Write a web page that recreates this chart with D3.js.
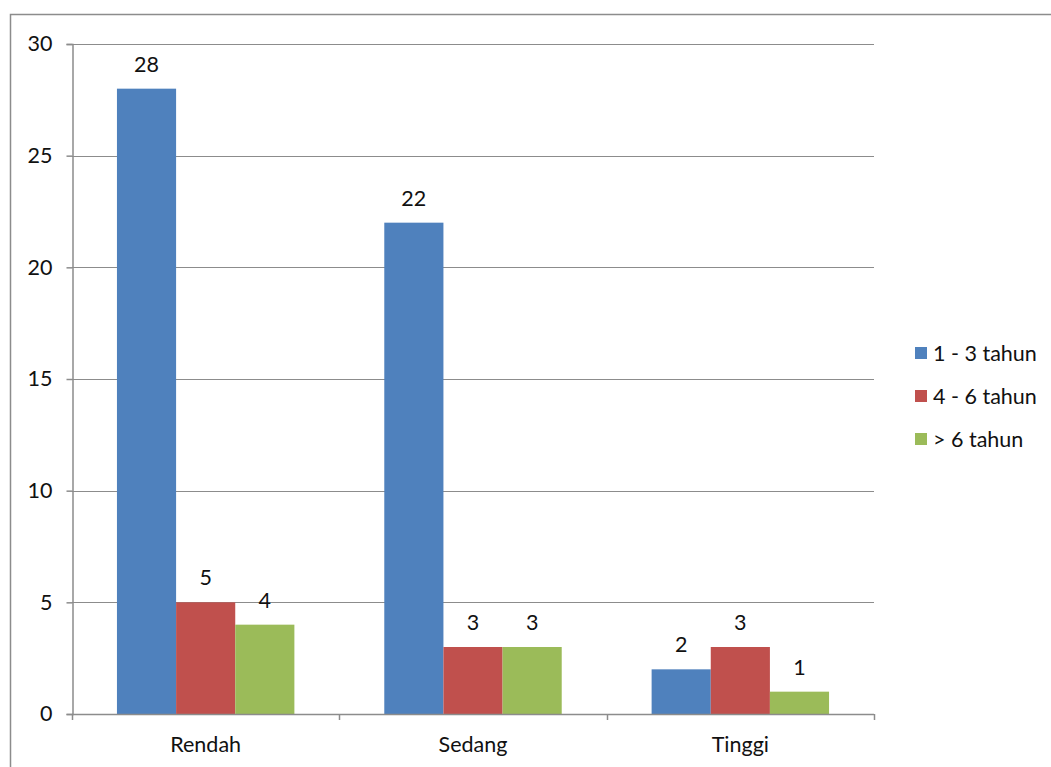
<!DOCTYPE html>
<html><head><meta charset="utf-8">
<script src="https://cdn.jsdelivr.net/npm/d3@7"></script>
<style>body{margin:0;background:#fff;} svg{display:block;}</style>
</head><body>
<script>
const categories = ["Rendah", "Sedang", "Tinggi"];
const seriesNames = ["1 - 3 tahun", "4 - 6 tahun", "> 6 tahun"];
const series1 = [28, 22, 2];
const series2 = [5, 3, 3];
const series3 = [4, 3, 1];
const yTicks = [0, 5, 10, 15, 20, 25, 30];
const colors = ["#4f81bd", "#c0504d", "#9bbb59"];

const W = 1051, H = 767;
const svg = d3.select("body").append("svg").attr("width", W).attr("height", H);
const font = "Lato, 'Open Sans', sans-serif";
const fs = 21.5;

svg.append("rect").attr("x", 10.5).attr("y", 14.5).attr("width", W).attr("height", H)
  .attr("fill", "none").attr("stroke", "#8c8c8c").attr("stroke-width", 1.5);

const x0 = d3.scaleBand().domain(categories).range([72, 874]).paddingInner(0).paddingOuter(0);
const x1 = d3.scaleBand().domain(seriesNames).range([0, x0.bandwidth()]).paddingInner(0).paddingOuter(0.76);
const y = d3.scaleLinear().domain([0, 30]).range([714, 44]);

// gridlines
svg.append("g").selectAll("line").data(yTicks.filter(d => d > 0)).join("line")
  .attr("x1", 72).attr("x2", 874).attr("y1", d => Math.round(y(d)) + 0.5).attr("y2", d => Math.round(y(d)) + 0.5)
  .attr("stroke", "#8c8c8c").attr("stroke-width", 1);

const data = categories.map((c, i) => ({cat: c, vals: [series1[i], series2[i], series3[i]]}));

const groups = svg.append("g").selectAll("g").data(data).join("g")
  .attr("transform", d => `translate(${x0(d.cat)},0)`);
groups.selectAll("rect").data(d => d.vals.map((v, j) => ({v, s: seriesNames[j], j}))).join("rect")
  .attr("x", d => x1(d.s)).attr("width", x1.bandwidth())
  .attr("y", d => y(d.v)).attr("height", d => y(0) - y(d.v))
  .attr("fill", d => colors[d.j]);
groups.selectAll("text").data(d => d.vals.map((v, j) => ({v, s: seriesNames[j], j}))).join("text")
  .attr("x", d => x1(d.s) + x1.bandwidth() / 2).attr("y", d => y(d.v) - 17)
  .attr("text-anchor", "middle").attr("font-family", font).attr("font-size", fs).attr("fill", "#111")
  .text(d => d.v);

// y axis
const yAxis = svg.append("g").attr("transform", "translate(72.5,0)")
  .call(d3.axisLeft(y).tickValues(yTicks).tickSize(6).tickPadding(14));
yAxis.select(".domain").attr("stroke", "#8c8c8c").attr("stroke-width", 1.5);
yAxis.selectAll(".tick line").attr("stroke", "#8c8c8c").attr("stroke-width", 1.5);
yAxis.selectAll("text").attr("font-family", font).attr("font-size", fs).attr("fill", "#111");

// x axis
const xAxis = svg.append("g").attr("transform", "translate(0,714.5)")
  .call(d3.axisBottom(x0).tickSize(0).tickPadding(22));
xAxis.select(".domain").attr("stroke", "#8c8c8c").attr("stroke-width", 1.5).attr("d", "M72,0H874");
xAxis.selectAll("text").attr("font-family", font).attr("font-size", fs).attr("fill", "#111");
const bounds = [72, 72 + x0.bandwidth(), 72 + 2 * x0.bandwidth(), 874];
svg.append("g").selectAll("line").data(bounds).join("line")
  .attr("x1", d => Math.round(d) + 0.5).attr("x2", d => Math.round(d) + 0.5).attr("y1", 714).attr("y2", 720)
  .attr("stroke", "#8c8c8c").attr("stroke-width", 1.5);

// legend
const leg = svg.append("g").selectAll("g").data(seriesNames).join("g")
  .attr("transform", (d, i) => `translate(915,${353 + i * 43})`);
leg.append("rect").attr("x", 0).attr("y", -6).attr("width", 12).attr("height", 12)
  .attr("fill", (d, i) => colors[i]);
leg.append("text").attr("x", 18).attr("y", 0).attr("dy", "0.35em")
  .attr("font-family", font).attr("font-size", fs).attr("fill", "#111").text(d => d);
</script>
</body></html>
